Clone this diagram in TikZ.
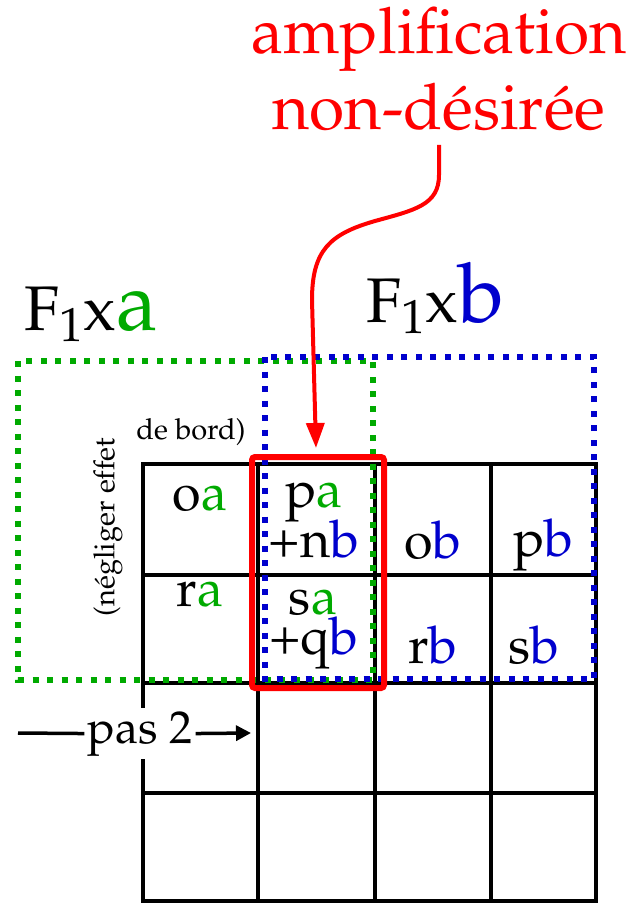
\documentclass[tikz,border=0pt]{standalone}
\usepackage[T1]{fontenc}
\usepackage{mathpazo}
\usepackage{xcolor}
\usetikzlibrary{positioning,arrows.meta}

\definecolor{vertF}{RGB}{0,170,0}
\definecolor{bleuF}{RGB}{0,0,205}
\newcommand{\aV}{\textcolor{vertF}{a}}
\newcommand{\bB}{\textcolor{bleuF}{b}}

\begin{document}
\begin{tikzpicture}[x=1pt,y=-1pt,
    cell/.style={anchor=base,inner sep=0pt,font=\fontsize{52}{52}\selectfont},
    grille/.style={line width=4pt},
    pointille/.style={line width=6pt,dash pattern=on 6pt off 8.5pt},
    titre/.style={anchor=base,inner sep=0pt,font=\fontsize{63}{63}\selectfont},
    rouge/.style={anchor=base,inner sep=0pt,red,font=\fontsize{64}{64}\selectfont},
    petit/.style={inner sep=0pt,font=\fontsize{29}{29}\selectfont}]
  \useasboundingbox (0,0) rectangle (629,904);
  % grille
  \foreach \x in {143,258,375,491,596}
    \draw[grille] (\x,464) -- (\x,901);
  \foreach \y in {464,575,683,793,901}
    \draw[grille] (141,\y) -- (598,\y);
  % cases
  \node[cell] (oa) at (200,510) {o\aV};
  \node[cell] (ra) at (200,606) {r\aV};
  \node[cell] (pa) at (314,507) {p\aV};
  \node[cell] (nb) at (314,557) {+n\bB};
  \node[cell] (sa) at (313,614) {s\aV};
  \node[cell] (qb) at (314,654) {+q\bB};
  \node[cell] (ob) at (433,558) {o\bB};
  \node[cell] (pb) at (543,556) {p\bB};
  \node[cell] (rb) at (433,663) {r\bB};
  \node[cell] (sb) at (534,663) {s\bB};
  % filtres
  \draw[pointille,draw=vertF] (18,361) rectangle (373,680);
  \draw[pointille,draw=bleuF] (265,357) rectangle (594,679);
  \node[titre] (Fa) at (91,330) {F\textsubscript{1}x\textcolor{vertF}{\fontsize{83}{83}\selectfont a}};
  \node[titre] (Fb) at (435,322) {F\textsubscript{1}x\textcolor{bleuF}{\fontsize{83}{83}\selectfont b}};
  \node[petit,anchor=base] (bord) at (191,439) {de bord)};
  \node[petit,rotate=90] (negl) at (108,527) {(n\'egliger effet};
  % pas
  \node[anchor=base,fill=white,inner sep=3pt,font=\fontsize{46}{46}\selectfont] (pas) at (140,743) {pas 2};
  \coordinate (pasG) at (18,733);
  \coordinate (pasD) at (251,733);
  \draw[line width=3.5pt] (pasG) -- (pas.west);
  \draw[line width=3.5pt,-{Triangle[length=15pt,width=15pt]}] (pas.east) -- (pasD);
  % amplification
  \draw[red,line width=6pt,rounded corners=3pt] (252,457) rectangle (384,688);
  \node[rouge] (ampl) at (439,54) {amplification};
  \node[rouge] (nondes) at (439,130) {non-d\'esir\'ee};
  \coordinate (depart) at (439,145);
  \coordinate (cible) at (316,448);
  \draw[red,line width=4pt,-{Triangle[length=25pt,width=18pt]}] (depart) -- (439,175)
    .. controls (439,205) and (415,210) .. (375,221)
    .. controls (330,234) and (312,250) .. (312,300) -- (cible);
\end{tikzpicture}
\end{document}
